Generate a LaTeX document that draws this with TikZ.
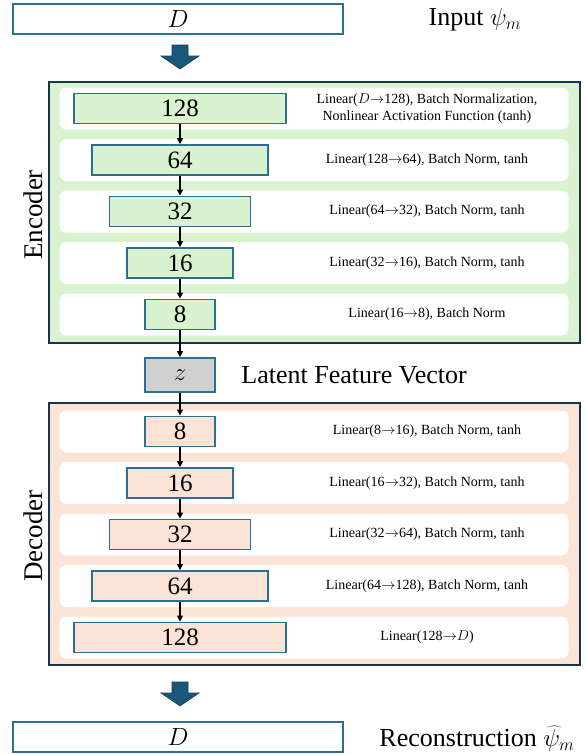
\documentclass[tikz,border=0pt]{standalone}
\usepackage{fontspec}
\setmainfont{Liberation Serif}
\usetikzlibrary{arrows.meta, positioning}

\definecolor{encfill}{HTML}{D9F2D0}
\definecolor{decfill}{HTML}{FBE3D6}
\definecolor{latfill}{HTML}{D0D0D0}
\definecolor{frameblue}{HTML}{2D6F8F}
\definecolor{framedark}{HTML}{17344A}
\definecolor{arrowblue}{HTML}{19587A}

\newcommand{\lto}{$\rightarrow$}

\begin{document}
\begin{tikzpicture}[x=1pt, y=-1pt,
  panel/.style={draw=framedark, line width=2.4pt, inner sep=0pt, minimum width=531pt, minimum height=261pt},
  rowbox/.style={fill=white, rounded corners=7pt, inner sep=0pt, minimum width=509pt, minimum height=42pt},
  layer/.style={draw=frameblue, line width=1.8pt, inner sep=0pt, minimum height=30pt, font=\fontsize{25}{30}\selectfont},
  iobox/.style={draw=frameblue, line width=1.8pt, fill=white, inner sep=0pt, minimum width=330pt, minimum height=30pt, font=\fontsize{25}{30}\selectfont},
  desc/.style={font=\fontsize{14}{17}\selectfont, align=center},
  biglabel/.style={font=\fontsize{26}{31}\selectfont},
  flow/.style={-{Triangle[length=6pt, width=6pt]}, line width=1.3pt},
  blockarrow/.style={fill=arrowblue, draw=arrowblue!70!black, line width=0.6pt}
]
  \useasboundingbox (0,0) rectangle (586,755);

  % input
  \node[iobox] (inbox) at (178,19) {$D$};
  \node[biglabel] (inlabel) at (475,20) {Input $\psi_m$};
  \draw[blockarrow] (172,45) -- (188,45) -- (188,56) -- (199,56) -- (180,69) -- (161,56) -- (172,56) -- cycle;

  % encoder
  \node[panel, fill=encfill] (enc) at (314.5,212.5) {};
  \node[rotate=90, font=\fontsize{27}{32}\selectfont] (enclabel) at (33,215) {Encoder};
  \foreach \i in {0,...,4}
    \node[rowbox] (er\i) at (314,108.5+51.5*\i) {};
  \foreach \n/\w [count=\i from 0] in {128/212,64/176,32/141,16/106,8/70}
    \node[layer, fill=encfill, minimum width=\w pt] (e\i) at (180,108.5+51.5*\i) {\n};
  \node[desc] (et0) at (427,108.5) {Linear($D$\lto128), Batch Normalization,\\Nonlinear Activation Function (tanh)};
  \node[desc] (et1) at (427,160) {Linear(128\lto64), Batch Norm, tanh};
  \node[desc] (et2) at (427,211.5) {Linear(64\lto32), Batch Norm, tanh};
  \node[desc] (et3) at (427,263) {Linear(32\lto16), Batch Norm, tanh};
  \node[desc] (et4) at (427,314.5) {Linear(16\lto8), Batch Norm};

  % latent
  \node[layer, fill=latfill, minimum width=70pt, minimum height=34pt] (z) at (180,375) {$z$};
  \node[biglabel, right=22pt of z] (zlabel) {Latent Feature Vector};

  % decoder
  \node[panel, fill=decfill, minimum height=262pt] (dec) at (314.5,534) {};
  \node[rotate=90, font=\fontsize{27}{32}\selectfont] (declabel) at (33,536) {Decoder};
  \foreach \i in {0,...,4}
    \node[rowbox] (dr\i) at (314,431.5+51.5*\i) {};
  \foreach \n/\w [count=\i from 0] in {8/70,16/106,32/141,64/176,128/212}
    \node[layer, fill=decfill, minimum width=\w pt] (d\i) at (180,431.5+51.5*\i) {\n};
  \node[desc] (dt0) at (427,431.5) {Linear(8\lto16), Batch Norm, tanh};
  \node[desc] (dt1) at (427,483) {Linear(16\lto32), Batch Norm, tanh};
  \node[desc] (dt2) at (427,534.5) {Linear(32\lto64), Batch Norm, tanh};
  \node[desc] (dt3) at (427,586) {Linear(64\lto128), Batch Norm, tanh};
  \node[desc] (dt4) at (427,637.5) {Linear(128\lto$D$)};

  % connectors
  \foreach \i/\j in {0/1,1/2,2/3,3/4} {
    \draw[flow] (e\i) -- (e\j);
    \draw[flow] (d\i) -- (d\j);
  }
  \draw[flow] (e4) -- (z);
  \draw[flow] (z) -- (d0);

  % output
  \draw[blockarrow, shift={(0,637)}] (172,45) -- (188,45) -- (188,56) -- (199,56) -- (180,69) -- (161,56) -- (172,56) -- cycle;
  \node[iobox] (outbox) at (178,737) {$D$};
  \node[biglabel] (outlabel) at (477,739) {Reconstruction $\widehat{\psi}_m$};
\end{tikzpicture}
\end{document}
